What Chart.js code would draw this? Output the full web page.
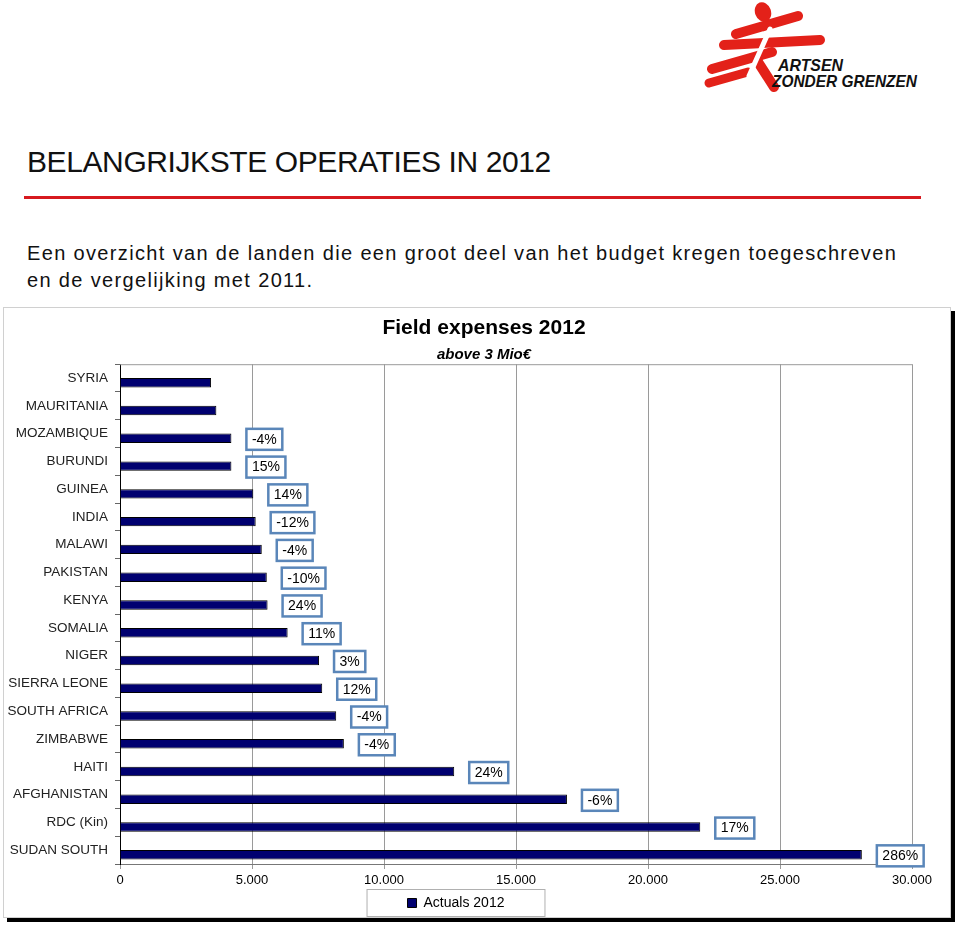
<!DOCTYPE html>
<html>
<head>
<meta charset="utf-8">
<title>Belangrijkste operaties in 2012</title>
<script src="https://cdn.jsdelivr.net/npm/chart.js@4.4.0/dist/chart.umd.min.js"></script>
<style>
  body { margin: 0; background: #fff; font-family: 'Liberation Sans', Arial, sans-serif; }
  .page { position: relative; width: 960px; height: 926px; overflow: hidden; }
  .logo { position: absolute; left: 700px; top: 0; }
  h1 { position: absolute; left: 27px; top: 147px; margin: 0; font-size: 30px; line-height: 30px;
       font-weight: normal; letter-spacing: -0.4px; color: #111; white-space: nowrap; }
  .rule { position: absolute; left: 24px; top: 196px; width: 897px; height: 3px; background: #d7191f; }
  .intro { position: absolute; left: 27px; top: 240px; margin: 0; font-size: 20px; line-height: 27px;
           letter-spacing: 1.35px; color: #111; width: 930px; }
  .frame { position: absolute; left: 3px; top: 307px; width: 946px; height: 609px;
           border: 1px solid #d0d0d0; box-shadow: 4px 4px 0 #000; }
  .chart-box { position: absolute; left: 0; top: 300px; width: 960px; height: 626px; }
</style>
</head>
<body>
<div class="page">
  <svg class="logo" width="260" height="100" viewBox="0 0 260 100">
    <g fill="none" stroke="#e32119" stroke-linecap="round">
      <line x1="36" y1="34" x2="98" y2="16" stroke-width="10"/>
      <line x1="24" y1="45" x2="120" y2="40" stroke-width="10"/>
      <line x1="12" y1="69" x2="72" y2="52" stroke-width="10"/>
      <line x1="9" y1="83" x2="48" y2="72" stroke-width="9"/>
      <line x1="58" y1="62" x2="74" y2="87" stroke-width="10"/>
    </g>
    <ellipse cx="63" cy="12" rx="8" ry="10" transform="rotate(-20 63 12)" fill="#e32119"/>
    <line x1="70" y1="29" x2="49" y2="76" stroke="#fff" stroke-width="5" stroke-linecap="round"/>
    <g font-family="'Liberation Sans', Arial, sans-serif" font-weight="bold" font-style="italic" fill="#111">
      <text x="78" y="71" font-size="17" textLength="65" lengthAdjust="spacingAndGlyphs">ARTSEN</text>
      <text x="72" y="87" font-size="17" textLength="145" lengthAdjust="spacingAndGlyphs">ZONDER GRENZEN</text>
    </g>
  </svg>
  <h1>BELANGRIJKSTE OPERATIES IN 2012</h1>
  <div class="rule"></div>
  <p class="intro">Een overzicht van de landen die een groot deel van het budget kregen toegeschreven<br>en de vergelijking met 2011.</p>
  <div class="frame"></div>
  <div class="chart-box"><canvas id="chart" width="960" height="626"></canvas></div>
</div>

<script>
const chartTitle = 'Field expenses 2012';
const chartSubtitle = 'above 3 Mio€';

const countries = ['SYRIA', 'MAURITANIA', 'MOZAMBIQUE', 'BURUNDI', 'GUINEA', 'INDIA', 'MALAWI',
  'PAKISTAN', 'KENYA', 'SOMALIA', 'NIGER', 'SIERRA LEONE', 'SOUTH AFRICA', 'ZIMBABWE',
  'HAITI', 'AFGHANISTAN', 'RDC (Kin)', 'SUDAN SOUTH'];

// field expenses in k€
const actuals2012 = [3450, 3650, 4220, 4220, 5050, 5140, 5370, 5560, 5590, 6350, 7540, 7660,
  8190, 8480, 12660, 16930, 21980, 28100];

// change versus 2011
const changeVs2011 = [null, null, '-4%', '15%', '14%', '-12%', '-4%', '-10%', '24%', '11%',
  '3%', '12%', '-4%', '-4%', '24%', '-6%', '17%', '286%'];

const xTicks = [0, 5000, 10000, 15000, 20000, 25000, 30000];

const navy = '#000070';
const fontFamily = "'Liberation Sans', Arial, sans-serif";

function fmtThousands(v) {
  return String(v).replace(/\B(?=(\d{3})+(?!\d))/g, '.');
}

// boxed percentage labels next to the bars
const changeLabels = {
  id: 'changeLabels',
  afterDatasetsDraw(chart) {
    const meta = chart.getDatasetMeta(1);
    const ctx = chart.ctx;
    ctx.save();
    ctx.font = '14px ' + fontFamily;
    ctx.textAlign = 'center';
    ctx.textBaseline = 'middle';
    meta.data.forEach((bar, i) => {
      const txt = changeVs2011[i];
      if (!txt) return;
      const w = ctx.measureText(txt).width + 11;
      const h = 21;
      const x = bar.x + 15;
      const y = bar.y - h / 2 + 1;
      ctx.fillStyle = '#fff';
      ctx.fillRect(x, y, w, h);
      ctx.strokeStyle = '#5a86b9';
      ctx.lineWidth = 2.5;
      ctx.strokeRect(x, y, w, h);
      ctx.fillStyle = '#000';
      ctx.fillText(txt, x + w / 2, y + h / 2 + 0.5);
    });
    ctx.restore();
  }
};

// top edge of plot area + box around the legend, like the Excel original
const frameBits = {
  id: 'frameBits',
  afterDraw(chart) {
    const { ctx, chartArea } = chart;
    ctx.save();
    ctx.strokeStyle = '#9a9a9a';
    ctx.lineWidth = 1;
    ctx.beginPath();
    ctx.moveTo(chartArea.left, chartArea.top + 0.5);
    ctx.lineTo(chartArea.right, chartArea.top + 0.5);
    ctx.stroke();
    const hb = chart.legend.legendHitBoxes[0];
    if (hb) {
      ctx.strokeStyle = '#b0b0b0';
      ctx.strokeRect(hb.left - 40.5, hb.top - 6.5, hb.width + 81, hb.height + 13);
    }
    ctx.restore();
  }
};

// title sits a bit right of the legend centre in the original
const titleShift = {
  id: 'titleShift',
  afterLayout(chart) {
    chart.boxes.forEach(b => {
      if (b.options && (b.options.text === chartTitle || b.options.text === chartSubtitle)) {
        b.left += 28;
        b.right += 28;
      }
    });
  }
};

new Chart(document.getElementById('chart'), {
  type: 'bar',
  data: {
    labels: countries,
    datasets: [
      {
        label: 'spacer',
        data: countries.map(() => null),
        backgroundColor: 'rgba(0,0,0,0)',
      },
      {
        label: 'Actuals 2012',
        data: actuals2012,
        backgroundColor: navy,
        borderColor: '#000',
        borderWidth: 1,
      },
    ],
  },
  options: {
    indexAxis: 'y',
    responsive: false,
    animation: false,
    datasets: { bar: { categoryPercentage: 0.68, barPercentage: 1 } },
    layout: { padding: { left: 0, right: 48, top: 0, bottom: 6 } },
    plugins: {
      tooltip: { enabled: false },
      title: {
        display: true,
        text: chartTitle,
        color: '#000',
        font: { family: fontFamily, size: 21, weight: 'bold' },
        padding: { top: 16, bottom: 0 },
      },
      subtitle: {
        display: true,
        text: chartSubtitle,
        color: '#000',
        font: { family: fontFamily, size: 15, weight: 'bold', style: 'italic' },
        padding: { top: 5, bottom: 0 },
      },
      legend: {
        position: 'bottom',
        labels: {
          filter: item => item.datasetIndex === 1,
          color: '#000',
          boxWidth: 9,
          boxHeight: 9,
          padding: 8,
          font: { family: fontFamily, size: 14 },
        },
      },
    },
    scales: {
      x: {
        min: 0,
        max: 30000,
        afterBuildTicks: s => { s.ticks = xTicks.map(v => ({ value: v })); },
        afterFit: s => { s.height = 24; },
        ticks: {
          color: '#000',
          padding: 4,
          font: { family: fontFamily, size: 13 },
          callback: v => fmtThousands(v),
        },
        grid: { color: '#9a9a9a', lineWidth: 1, tickLength: 5 },
        border: { color: '#777' },
      },
      y: {
        afterFit: s => { s.width = 120; },
        ticks: {
          color: '#222',
          padding: 7,
          font: { family: fontFamily, size: 13.5 },
        },
        grid: { offset: true, drawOnChartArea: false, tickLength: 5, color: '#666' },
        border: { color: '#000', width: 1 },
      },
    },
  },
  plugins: [changeLabels, frameBits, titleShift],
});
</script>
</body>
</html>
